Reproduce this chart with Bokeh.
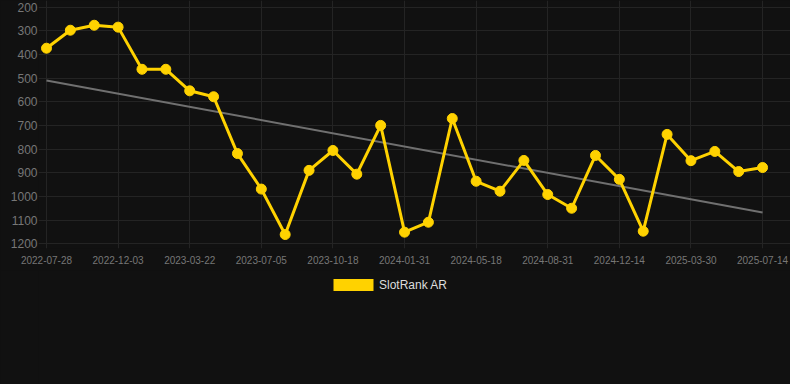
from bokeh.plotting import figure
from bokeh.layouts import column
from bokeh.models import Range1d, FixedTicker, Legend, LegendItem, ColumnDataSource
from bokeh.embed import file_html
from bokeh.resources import INLINE

dates = ["2022-07-28", "2022-09-09", "2022-10-21", "2022-12-03", "2023-01-08", "2023-02-14",
         "2023-03-22", "2023-04-26", "2023-05-31", "2023-07-05", "2023-08-09", "2023-09-13",
         "2023-10-18", "2023-11-22", "2023-12-27", "2024-01-31", "2024-03-07", "2024-04-12",
         "2024-05-18", "2024-06-22", "2024-07-27", "2024-08-31", "2024-10-05", "2024-11-09",
         "2024-12-14", "2025-01-18", "2025-02-22", "2025-03-30", "2025-05-04", "2025-06-08",
         "2025-07-14"]
rank = [374, 298, 277, 285, 463, 463, 554, 579, 819, 969, 1161, 890, 806, 906, 700, 1151,
        1109, 671, 936, 978, 848, 992, 1050, 827, 928, 1147, 738, 849, 810, 895, 878]
trend_ends = [510, 1068]
y_ticks = [200, 300, 400, 500, 600, 700, 800, 900, 1000, 1100, 1200]
series_name = "SlotRank AR"

idx = list(range(len(dates)))
tick_idx = idx[::3]
BG = "#111111"
bg_style = {"background-color": BG}

p = figure(width=790, height=270, output_backend="svg", toolbar_location=None,
           x_range=Range1d(-0.335, 31.17), y_range=Range1d(1220, 172.5),
           min_border_left=38, min_border_right=0, min_border_top=0, min_border_bottom=22,
           background_fill_color=BG, border_fill_color=BG, outline_line_color=None,
           styles=bg_style)

p.xgrid.ticker = FixedTicker(ticks=tick_idx)
p.ygrid.ticker = FixedTicker(ticks=y_ticks)
p.xgrid.grid_line_color = "#242424"
p.ygrid.grid_line_color = "#242424"

p.xaxis.ticker = FixedTicker(ticks=tick_idx)
p.xaxis.major_label_overrides = {i: dates[i] for i in tick_idx}
p.yaxis.ticker = FixedTicker(ticks=y_ticks)
p.axis.axis_line_color = None
p.axis.major_tick_line_color = None
p.axis.minor_tick_line_color = None
p.axis.major_tick_out = 0
p.axis.major_tick_in = 0
p.axis.minor_tick_out = 0
p.axis.major_label_text_color = "#777777"
p.axis.major_label_text_font = "Liberation Sans"
p.xaxis.major_label_text_font_size = "10px"
p.yaxis.major_label_text_font_size = "12px"
p.xaxis.major_label_standoff = 7
p.yaxis.major_label_standoff = 1

p.line([idx[0], idx[-1]], trend_ends, line_color="#707070", line_width=2)

src = ColumnDataSource(dict(x=idx, y=rank))
p.line("x", "y", source=src, line_color="#FFD200", line_width=3)
p.scatter("x", "y", source=src, size=10, fill_color="#FFD200", line_color="#FFD200")

lg = figure(width=790, height=114, output_backend="svg", toolbar_location=None,
            x_range=Range1d(0, 1), y_range=Range1d(0, 1),
            min_border=0, background_fill_color=BG, border_fill_color=BG,
            outline_line_color=None, styles=bg_style)
lg.axis.visible = False
lg.grid.visible = False
dummy = lg.quad(left=[5], right=[6], top=[6], bottom=[5], fill_color="#FFD200", line_color=None)
legend = Legend(items=[LegendItem(label=series_name, renderers=[dummy])],
                location=(290, 92), orientation="horizontal",
                background_fill_alpha=0, border_line_color=None,
                glyph_width=50, glyph_height=15, label_text_color="#DDDDDD",
                label_text_font="Liberation Sans", label_text_font_size="12px",
                margin=0, padding=0, spacing=0, label_standoff=1, label_height=12)
lg.add_layout(legend, "center")

layout = column(p, lg, spacing=0, styles=bg_style)
open("out.html", "w").write(file_html(layout, INLINE))
